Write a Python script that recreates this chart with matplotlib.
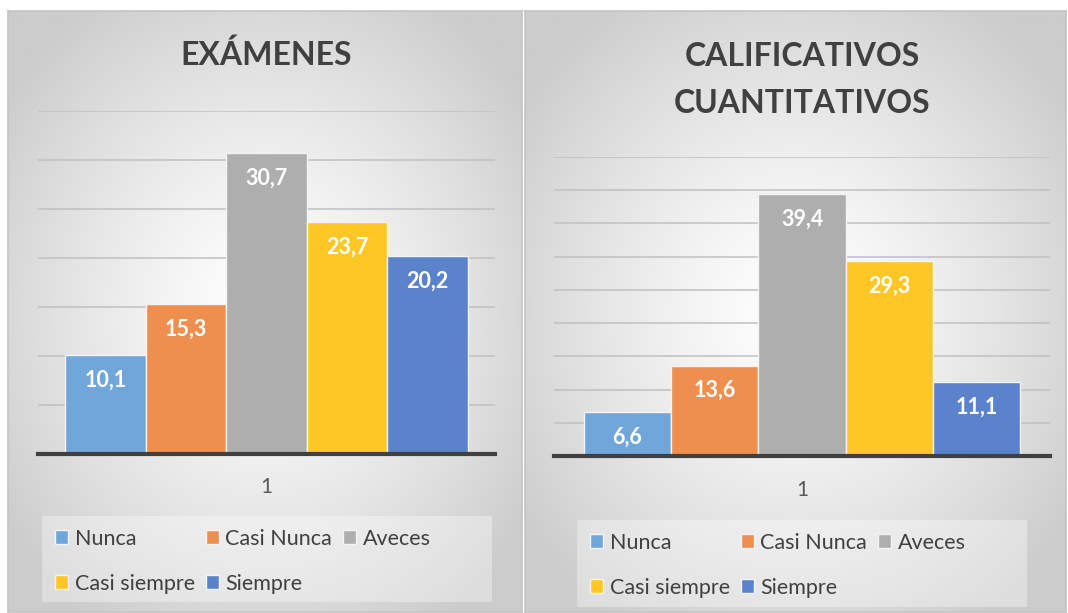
import numpy as np
import matplotlib
matplotlib.use("Agg")
import matplotlib.pyplot as plt
from matplotlib.patches import Rectangle

plt.rcParams['font.family'] = ['Lato', 'DejaVu Sans']

categorias = ['Nunca', 'Casi Nunca', 'Aveces', 'Casi siempre', 'Siempre']
examenes = [10.1, 15.3, 30.7, 23.7, 20.2]
calificativos = [6.6, 13.6, 39.4, 29.3, 11.1]
colores = ['#70a6da', '#ee8f50', '#aeaeae', '#ffc726', '#5b83cb']

W, H = 1068, 613
fig = plt.figure(figsize=(W / 100, H / 100), dpi=100)
fig.patch.set_facecolor('white')


def fx(px):
    return px / W


def fy(py):
    return 1 - py / H


def fondo(x0, x1, y0, y1):
    # panel with radial grey gradient like the Excel style
    bg = fig.add_axes([fx(x0), fy(y1), fx(x1 - x0), (y1 - y0) / H])
    yy, xx = np.mgrid[0:1:300j, 0:1:300j]
    r = np.sqrt(((xx - 0.5) / 0.62) ** 2 + ((yy - 0.5) / 0.62) ** 2)
    v = 1 - 0.2 * np.clip(r, 0, 1) ** 1.3
    bg.imshow(np.dstack([v, v, v]), aspect='auto', extent=(0, 1, 0, 1), zorder=0)
    bg.set_xticks([])
    bg.set_yticks([])
    for s in bg.spines.values():
        s.set_color('#c4c4c4')
        s.set_linewidth(1.2)
    return bg


def panel(vals, rect, ymax, titulo, title_y, tick_y, leg_box):
    ax = fig.add_axes(rect)
    ax.patch.set_alpha(0)
    x = np.arange(len(vals)) - 2
    bars = ax.bar(x, vals, width=1, color=colores, edgecolor='#f4f4f4',
                  linewidth=1, zorder=3)
    for xi, v in zip(x, vals):
        ax.annotate(f"{v:.1f}".replace('.', ','), (xi, v), xytext=(0, -18),
                    textcoords='offset points', ha='center', va='center',
                    color='white', fontsize=15.5, fontweight='bold', zorder=4)
    ax.set_xlim(-2.84, 2.84)
    ax.set_ylim(0, ymax)
    ax.set_yticks(np.arange(5, ymax + 1, 5))
    ax.yaxis.grid(True, color='#c0c0c0', linewidth=1.1, zorder=0)
    ax.tick_params(left=False, labelleft=False, bottom=False, labelbottom=False)
    for k in ['top', 'right', 'left']:
        ax.spines[k].set_visible(False)
    ax.spines['bottom'].set_color('#404040')
    ax.spines['bottom'].set_linewidth(3)
    ax.spines['bottom'].set_zorder(5)

    cx = rect[0] + rect[2] / 2
    fig.text(cx, fy(tick_y), '1', ha='center', va='center', fontsize=15,
             color='#595959')
    fig.text(cx, fy(title_y), titulo, ha='center', va='center', fontsize=23,
             fontweight='bold', color='#404040', linespacing=1.72)

    lx0, ly0, lx1, ly1 = leg_box
    fig.patches.append(Rectangle((fx(lx0), fy(ly1)), fx(lx1 - lx0), (ly1 - ly0) / H,
                                 transform=fig.transFigure, facecolor='white',
                                 alpha=0.35, edgecolor='none', zorder=1))
    orden = [0, 3, 1, 4, 2]
    handles = [bars[i] for i in orden]
    labels = [categorias[i] for i in orden]
    fig.legend(handles, labels, ncol=3, loc='upper left',
               bbox_to_anchor=(fx(lx0), fy(ly1), fx(lx1 - lx0), (ly1 - ly0) / H),
               frameon=False, fontsize=15.5,
               labelcolor='#404040', handlelength=0.62, handleheight=0.62,
               handletextpad=0.3, labelspacing=1.15, borderaxespad=0,
               columnspacing=0.5, borderpad=0.6)
    return ax


fondo(8, 522, 11, 612)
fondo(525, 1066, 11, 612)

panel(examenes, [fx(38), fy(454), fx(457), (454 - 111) / H], 35,
      'EXÁMENES', 55, 487, (42, 516, 492, 602))
panel(calificativos, [fx(554), fy(456), fx(496), (456 - 157) / H], 45,
      'CALIFICATIVOS\nCUANTITATIVOS', 80, 490, (577, 520, 1027, 607))

fig.savefig('out.png', dpi=100)
